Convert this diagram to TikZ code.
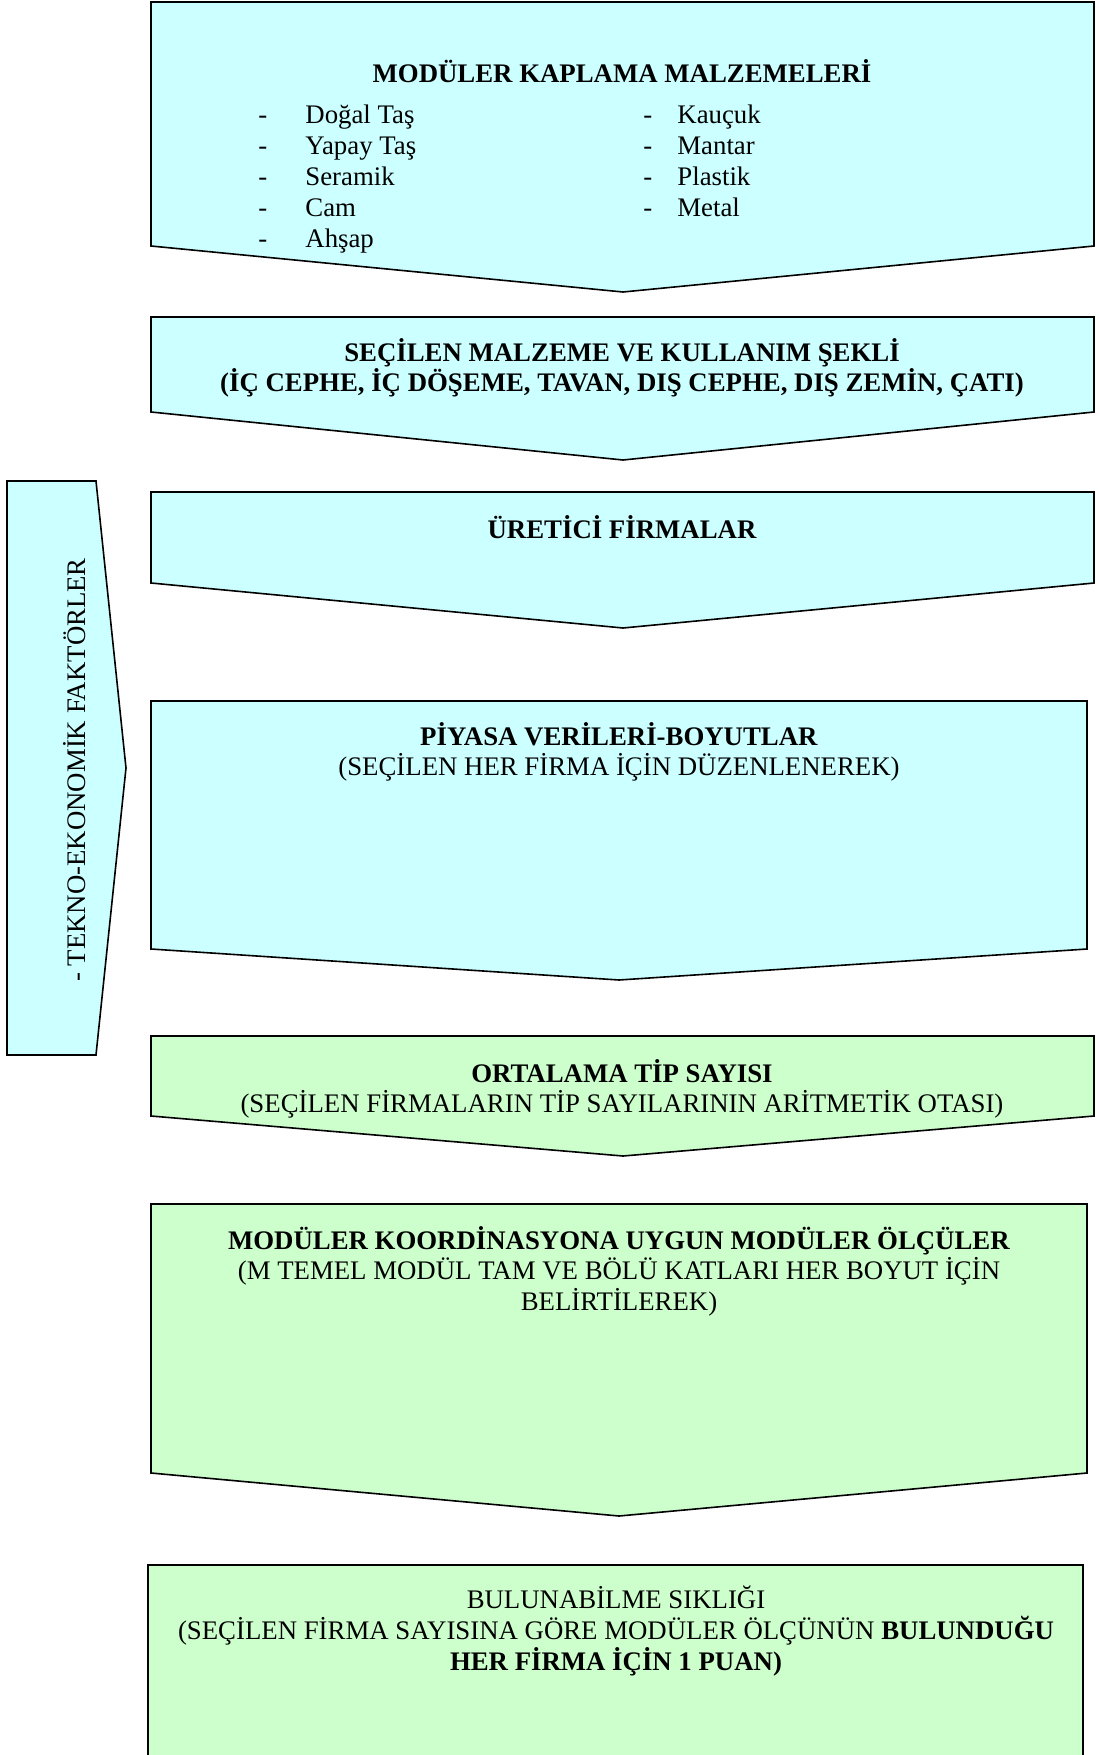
\documentclass[tikz,border=0pt]{standalone}
\usepackage{fontspec}
\setmainfont{Liberation Serif}
\definecolor{boxcyan}{HTML}{CCFFFF}
\definecolor{boxgreen}{HTML}{CCFFCC}

\begin{document}
\begin{tikzpicture}[x=0.5pt,y=-0.5pt,
  cyan box/.style={draw,fill=boxcyan,line width=0.8pt,line join=miter},
  green box/.style={draw,fill=boxgreen,line width=0.8pt,line join=miter},
  title/.style={font=\fontsize{13.4}{15.3}\selectfont\bfseries,align=center,inner sep=0pt},
  plain/.style={font=\fontsize{13.4}{15.3}\selectfont,align=center,inner sep=0pt},
  item/.style={font=\fontsize{13.4}{15.3}\selectfont,anchor=base west,inner sep=0pt}]

  \useasboundingbox (0,0) rectangle (1099,1755);

  % chevrons
  \draw[cyan box] (151,2) -- (1094,2) -- (1094,246) -- (623,292) -- (151,246) -- cycle;
  \draw[cyan box] (151,317) -- (1094,317) -- (1094,412) -- (623,460) -- (151,412) -- cycle;
  \draw[cyan box] (151,492) -- (1094,492) -- (1094,583) -- (623,628) -- (151,583) -- cycle;
  \draw[cyan box] (151,701) -- (1087,701) -- (1087,949) -- (619,980) -- (151,949) -- cycle;
  \draw[green box] (151,1036) -- (1094,1036) -- (1094,1116) -- (623,1156) -- (151,1116) -- cycle;
  \draw[green box] (151,1204) -- (1087,1204) -- (1087,1473) -- (619,1516) -- (151,1473) -- cycle;
  \fill[boxgreen] (148,1565) rectangle (1083,1760);
  \draw[line width=0.8pt] (148,1760) -- (148,1565) -- (1083,1565) -- (1083,1760);

  % side arrow
  \draw[cyan box] (7,481) -- (96,481) -- (126,768) -- (96,1055) -- (7,1055) -- cycle;
  \node[plain,rotate=90] (tekno) at (75,770) {- TEKNO-EKONOMİK FAKTÖRLER};

  % texts
  \node[title] (malz) at (622,71) {MODÜLER KAPLAMA MALZEMELERİ};
  \foreach \name [count=\i] in {Doğal Taş, Yapay Taş, Seramik, Cam, Ahşap} {
    \node[item] (da\i) at (258,{124+(\i-1)*30.8}) {-};
    \node[item] (la\i) at (305,{124+(\i-1)*30.8}) {\name};
  }
  \foreach \name [count=\i] in {Kauçuk, Mantar, Plastik, Metal} {
    \node[item] (db\i) at (643,{124+(\i-1)*30.8}) {-};
    \node[item] (lb\i) at (677,{124+(\i-1)*30.8}) {\name};
  }

  \node[title] (secilen) at (622,368) {SEÇİLEN MALZEME VE KULLANIM ŞEKLİ\\(İÇ CEPHE, İÇ DÖŞEME, TAVAN, DIŞ CEPHE, DIŞ ZEMİN, ÇATI)};
  \node[title] (uretici) at (622,527) {ÜRETİCİ FİRMALAR};
  \node[plain] (piyasa) at (619,752) {\textbf{PİYASA VERİLERİ-BOYUTLAR}\\(SEÇİLEN HER FİRMA İÇİN DÜZENLENEREK)};
  \node[plain] (ortalama) at (622,1089) {\textbf{ORTALAMA TİP SAYISI}\\(SEÇİLEN FİRMALARIN TİP SAYILARININ ARİTMETİK OTASI)};
  \node[plain] (koord) at (619,1271) {\textbf{MODÜLER KOORDİNASYONA UYGUN MODÜLER ÖLÇÜLER}\\(M TEMEL MODÜL TAM VE BÖLÜ KATLARI HER BOYUT İÇİN\\BELİRTİLEREK)};
  \node[plain] (siklik) at (616,1631) {BULUNABİLME SIKLIĞI\\(SEÇİLEN FİRMA SAYISINA GÖRE MODÜLER ÖLÇÜNÜN \textbf{BULUNDUĞU}\\\textbf{HER FİRMA İÇİN 1 PUAN)}};
\end{tikzpicture}
\end{document}
